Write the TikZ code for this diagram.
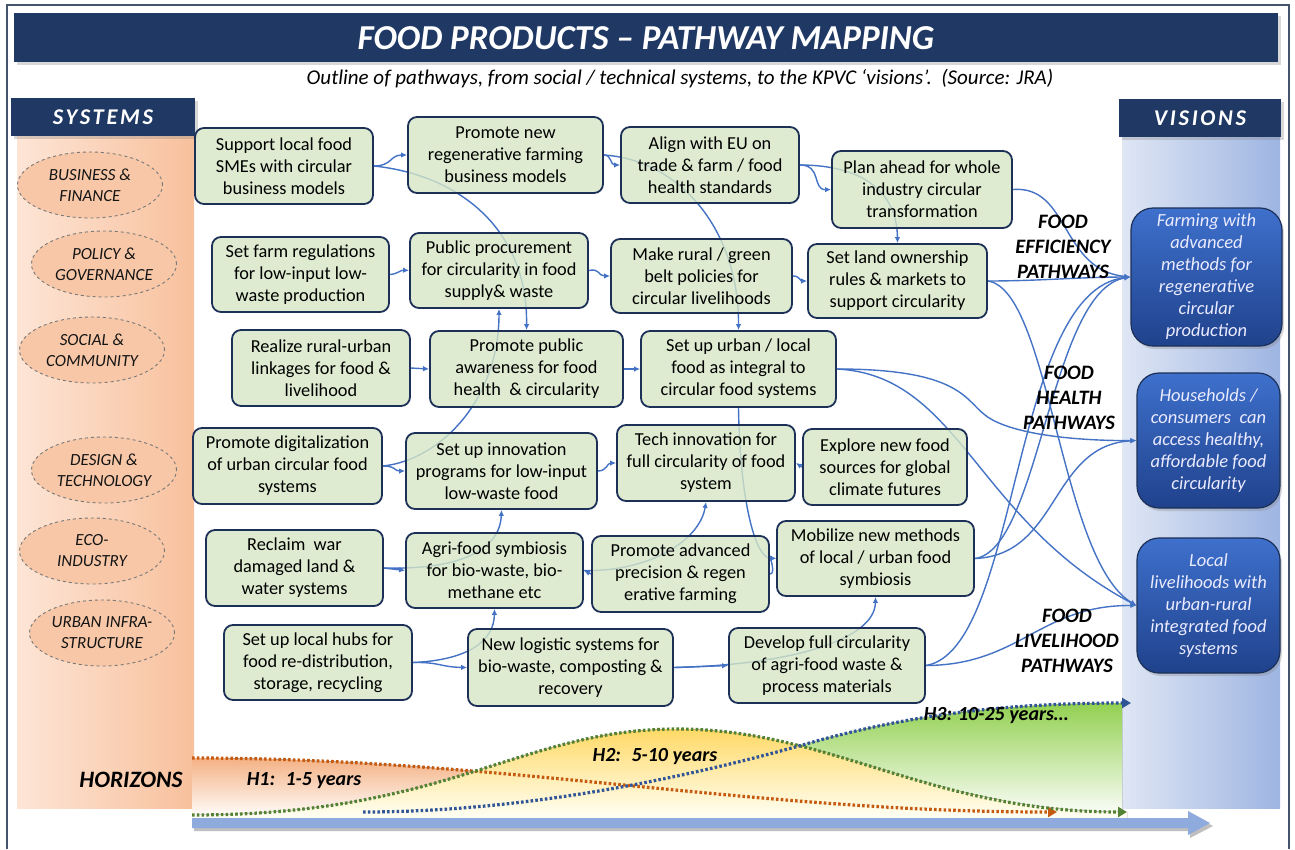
\documentclass[tikz,border=0pt]{standalone}
\usepackage{fontspec}
\setmainfont{Carlito}
\usetikzlibrary{arrows.meta,shapes.geometric,shadows}
\definecolor{navy}{RGB}{31,56,100}
\definecolor{boxgreen}{RGB}{214,231,198}
\definecolor{boxline}{RGB}{28,48,88}
\definecolor{conn}{RGB}{68,114,196}
\definecolor{colL}{RGB}{253,229,214}
\definecolor{colR}{RGB}{248,192,156}
\definecolor{ellfill}{RGB}{247,199,167}
\definecolor{ellline}{RGB}{120,120,120}
\definecolor{visL}{RGB}{223,230,244}
\definecolor{visR}{RGB}{158,181,226}
\definecolor{vtop}{RGB}{62,112,204}
\definecolor{vbot}{RGB}{32,66,140}
\definecolor{horange}{RGB}{197,90,17}
\definecolor{hgreen}{RGB}{84,130,53}
\definecolor{hblue}{RGB}{47,85,151}
\definecolor{forange}{RGB}{244,177,131}
\definecolor{fyellow}{RGB}{255,217,102}
\definecolor{fgreen}{RGB}{146,208,80}
\definecolor{bigarrow}{RGB}{143,170,220}
\definecolor{framecol}{RGB}{68,84,106}
\pgfdeclarelayer{bgl}
\pgfdeclarelayer{cnl}
\pgfsetlayers{bgl,cnl,main}
\newcommand\bxfont{\fontsize{18.3}{22}\selectfont}
\newcommand\gbx[6]{\node[gbox,minimum width=#4,minimum height=#5] (#1) at (#2,#3) {#6};}
\begin{document}
\begin{tikzpicture}[x=1pt,y=-1pt,
  gbox/.style={draw=boxline,line width=1.8pt,rounded corners=9pt,fill=boxgreen,fill opacity=0.8,text opacity=1,
    align=center,inner sep=0pt,font=\bxfont,text=black},
  ell/.style={ellipse,draw=ellline,dashed,line width=0.9pt,fill=ellfill,inner sep=0pt,align=center,
    minimum width=145,minimum height=66,font=\fontsize{17}{21}\selectfont\itshape,text=black!92},
  vbox/.style={rounded corners=22pt,top color=vtop,bottom color=vbot,draw=boxline,line width=1.2pt,
    text=white!92!blue,align=center,inner sep=0pt,font=\fontsize{18.5}{22}\selectfont\itshape,
    drop shadow={shadow xshift=2pt,shadow yshift=-3pt,opacity=0.3}},
  hdr/.style={fill=navy,inner sep=0pt,drop shadow={shadow xshift=3pt,shadow yshift=-3pt,opacity=0.3}},
  plab/.style={align=center,font=\fontsize{20.5}{25}\selectfont\bfseries\itshape,text=black,inner sep=0pt},
  hlab/.style={font=\fontsize{20}{22}\selectfont\bfseries\itshape,text=black},
  cn/.style={draw=conn,line width=1.4pt,-{Latex[length=6pt,width=5.5pt]}},
  hdot/.style={line width=3.2pt,dash pattern=on 2.6pt off 2.2pt,-{Triangle[length=9pt,width=10pt]}}
]
\useasboundingbox (0,0) rectangle (1295,849);
\begin{pgfonlayer}{bgl}
\fill[white] (0,0) rectangle (1295,849);
\draw[framecol,line width=1.5pt] (7,849) -- (7,5) -- (1289,5) -- (1289,849);
% columns
\fill[left color=colL,right color=colR] (17,136) rectangle (194,808);
\fill[left color=visL,right color=visR] (1122,137) rectangle (1280,808);
% horizon fills
\begin{scope}
\clip (192,740) rectangle (660,820);
\fill[top color=forange,bottom color=white] (192,758) .. controls (500,758) and (750,812) .. (1057,812) -- (1057,818) -- (192,818) -- cycle;
\end{scope}
\begin{scope}
\clip (640,690) rectangle (1122,820);
\fill[top color=fgreen,bottom color=white] (363,812) .. controls (520,812) and (680,780) .. (813,742) .. controls (920,712) and (1020,703) .. (1131,703) -- (1131,818) -- (363,818) -- cycle;
\end{scope}
\fill[top color=fyellow,bottom color=white!96!yellow] (192,815) .. controls (450,815) and (520,729) .. (677,729) .. controls (830,729) and (930,812) .. (1127,812) -- (1127,818) -- (192,818) -- cycle;
\end{pgfonlayer}

% headers
\node[hdr,minimum width=1264,minimum height=49] (title) at (646,37.5) {};
\node[text=white,font=\fontsize{35}{40}\selectfont\bfseries\itshape] (titletxt) at (646,38) {FOOD PRODUCTS – PATHWAY MAPPING};
\node[font=\fontsize{21}{24}\selectfont\itshape,text=black] (subtitle) at (680,79) {Outline of pathways, from social / technical systems, to the KPVC ‘visions’.~~(Source: JRA)};
\node[hdr,minimum width=184,minimum height=38] (syshdr) at (103,117) {};
\node[text=white,font=\fontsize{22.5}{26}\selectfont\bfseries\itshape\addfontfeature{LetterSpace=12}] (systxt) at (103,117) {SYSTEMS};
\node[hdr,minimum width=162,minimum height=38] (vishdr) at (1200,118) {};
\node[text=white,font=\fontsize{22.5}{26}\selectfont\bfseries\itshape\addfontfeature{LetterSpace=12}] (vistxt) at (1200,118) {VISIONS};

% ellipses
\node[ell] (e1) at (90,185) {BUSINESS \&\\FINANCE};
\node[ell] (e2) at (104,264) {POLICY \&\\GOVERNANCE};
\node[ell] (e3) at (92,350) {SOCIAL \&\\COMMUNITY};
\node[ell] (e4) at (104,470) {DESIGN \&\\TECHNOLOGY};
\node[ell] (e5) at (92,551) {ECO-\\INDUSTRY};
\node[ell] (e6) at (102,633) {URBAN INFRA-\\STRUCTURE};
\node[font=\fontsize{23.5}{26}\selectfont\bfseries\itshape,text=black] (horiz) at (131,780) {HORIZONS};

% green boxes
\gbx{sup}{284}{166}{178}{76}{Support local food\\SMEs with circular\\business models}
\gbx{regen}{505.5}{155}{195}{76}{Promote new\\regenerative farming\\business models}
\gbx{align}{710}{165}{178}{76}{Align with EU on\\trade \& farm / food\\health standards}
\gbx{plan}{922}{189.5}{180}{77}{Plan ahead for whole\\industry circular\\transformation}
\gbx{farm}{300.5}{274.5}{177}{75}{Set farm regulations\\for low-input low-\\waste production}
\gbx{proc}{499}{270.5}{178}{75}{Public procurement\\for circularity in food\\supply\& waste}
\gbx{rural}{701.5}{276}{181}{74}{Make rural / green\\belt policies for\\circular livelihoods}
\gbx{land}{897.5}{281}{179}{74}{Set land ownership\\rules \& markets to\\support circularity}
\gbx{link}{321}{368}{178}{76}{Realize rural-urban\\linkages for food \&\\livelihood}
\gbx{aware}{526.5}{369}{193}{76}{Promote public\\awareness for food\\health~~\& circularity}
\gbx{urban}{738.5}{369}{195}{76}{Set up urban / local\\food as integral to\\circular food systems}
\gbx{digi}{287.5}{466}{189}{76}{Promote digitalization\\of urban circular food\\systems}
\gbx{innov}{501.5}{471}{191}{76}{Set up innovation\\programs for low-input\\low-waste food}
\gbx{tech}{706}{463}{178}{76}{Tech innovation for\\full circularity of food\\system}
\gbx{explore}{885}{467}{164}{76}{Explore new food\\sources for global\\climate futures}
\gbx{reclaim}{294.5}{568}{177}{76}{Reclaim~ war\\damaged land \&\\water systems}
\gbx{agri}{494.5}{570.5}{177}{75}{Agri-food symbiosis\\for bio-waste, bio-\\methane etc}
\gbx{prec}{680.5}{574}{177}{76}{Promote advanced\\precision \& regen\\erative farming}
\gbx{mobil}{875.5}{558.5}{197}{75}{Mobilize new methods\\of local / urban food\\symbiosis}
\gbx{hubs}{318}{662.5}{188}{75}{Set up local hubs for\\food re-distribution,\\storage, recycling}
\gbx{logis}{570.5}{667.5}{205}{77}{New logistic systems for\\bio-waste, composting \&\\recovery}
\gbx{devel}{827}{665.5}{196}{75}{Develop full circularity\\of agri-food waste \&\\process materials}

% vision boxes
\node[vbox,minimum width=151,minimum height=138] (vfarm) at (1206.5,277) {Farming with\\advanced\\methods for\\regenerative\\circular\\production};
\node[vbox,minimum width=143,minimum height=135] (vhouse) at (1208.5,440.5) {Households /\\consumers~ can\\access healthy,\\affordable food\\circularity};
\node[vbox,minimum width=143,minimum height=135] (vlive) at (1208.5,605.5) {Local\\livelihoods with\\urban-rural\\integrated food\\systems};

% connectors
\begin{pgfonlayer}{cnl}
\draw[cn] (sup.east) .. controls (392,166) and (390,155) .. (regen.west);
\draw[cn] (sup.east) .. controls (460,175) and (528,230) .. (aware.north);
\draw[cn] (farm.east) .. controls (398,274) and (400,270) .. (proc.west);
\draw[cn] (link.east) -- (aware.west);
\draw[cn] (aware.east) -- (urban.west);
\draw[cn] (proc.east) .. controls (600,268) and (598,276) .. (rural.west);
\draw[cn] (rural.east) .. controls (800,276) and (800,281) .. (land.west);
\draw[cn] (regen.east) .. controls (612,155) and (610,165) .. (align.west);
\draw[cn] (regen.east) .. controls (680,160) and (739,230) .. (urban.north);
\draw[cn] (align.east) .. controls (822,165) and (812,190) .. (plan.west);
\draw[cn] (align.east) .. controls (860,165) and (897,190) .. (land.north);
\draw[cn] (plan.east) .. controls (1070,185) and (1060,270) .. (vfarm.west);
\draw[cn] (land.east) .. controls (1040,281) and (1080,277) .. (vfarm.west);
\draw[cn] (land.east) .. controls (1050,290) and (1060,560) .. (vlive.west);
\draw[cn] (urban.east) .. controls (960,369) and (965,400) .. (985,415) .. controls (1010,435) and (1080,441) .. (vhouse.west);
\draw[cn] (urban.east) .. controls (960,375) and (975,520) .. (vlive.west);
\draw[cn] (mobil.east) .. controls (1040,550) and (1050,290) .. (vfarm.west);
\draw[cn] (mobil.east) .. controls (1060,555) and (1050,445) .. (vhouse.west);
\draw[cn] (devel.east) .. controls (1020,650) and (1010,290) .. (vfarm.west);
\draw[cn] (devel.east) .. controls (1020,665) and (1040,605) .. (vlive.west);
\draw[cn] (urban.south) .. controls (740,500) and (755,558) .. (mobil.west);
\draw[cn] (prec.east) .. controls (776,574) and (770,558) .. (mobil.west);
\draw[cn] (prec.west) -- (agri.east);
\draw[cn] (agri.east) .. controls (650,572) and (700,540) .. (tech.south);
\draw[cn] (reclaim.east) -- (agri.west);
\draw[cn] (reclaim.east) .. controls (460,570) and (500,550) .. (innov.south);
\draw[cn] (digi.east) .. controls (396,466) and (394,471) .. (innov.west);
\draw[cn] (digi.east) .. controls (440,460) and (499,400) .. (proc.south);
\draw[cn] (innov.east) .. controls (607,471) and (607,463) .. (tech.west);
\draw[cn] (explore.west) -- (tech.east);
\draw[cn] (hubs.east) .. controls (440,662) and (440,667) .. (logis.west);
\draw[cn] (hubs.east) .. controls (470,660) and (494,640) .. (agri.south);
\draw[cn] (logis.east) -- (devel.west);
\draw[cn] (logis.east) .. controls (790,665) and (875,640) .. (mobil.south);
\end{pgfonlayer}

% pathway labels
\node[plab] (pl1) at (1063,247) {FOOD\\EFFICIENCY\\PATHWAYS};
\node[plab] (pl2) at (1069,398) {FOOD\\HEALTH\\PATHWAYS};
\node[plab] (pl3) at (1067,641) {FOOD\\LIVELIHOOD\\PATHWAYS};

% horizons
\fill[black!25] (194,821) -- (1190,821) -- (1190,814) -- (1213,826) -- (1190,838) -- (1190,831) -- (194,831) -- cycle;
\fill[bigarrow] (192,818) -- (1188,818) -- (1188,811) -- (1210,823) -- (1188,835) -- (1188,828) -- (192,828) -- cycle;
\draw[hdot,draw=horange] (192,758) .. controls (500,758) and (750,812) .. (1057,812);
\draw[hdot,draw=hgreen] (192,815) .. controls (450,815) and (520,729) .. (677,729) .. controls (830,729) and (930,812) .. (1127,812);
\draw[hdot,draw=hblue] (363,812) .. controls (520,812) and (680,780) .. (813,742) .. controls (920,712) and (1020,703) .. (1131,703);
\node[hlab] (h1) at (304,781) {H1:~ 1-5 years};
\node[hlab] (h2) at (655,757) {H2:~ 5-10 years};
\node[hlab] (h3) at (996,716) {H3: 10-25 years…};
\end{tikzpicture}
\end{document}
